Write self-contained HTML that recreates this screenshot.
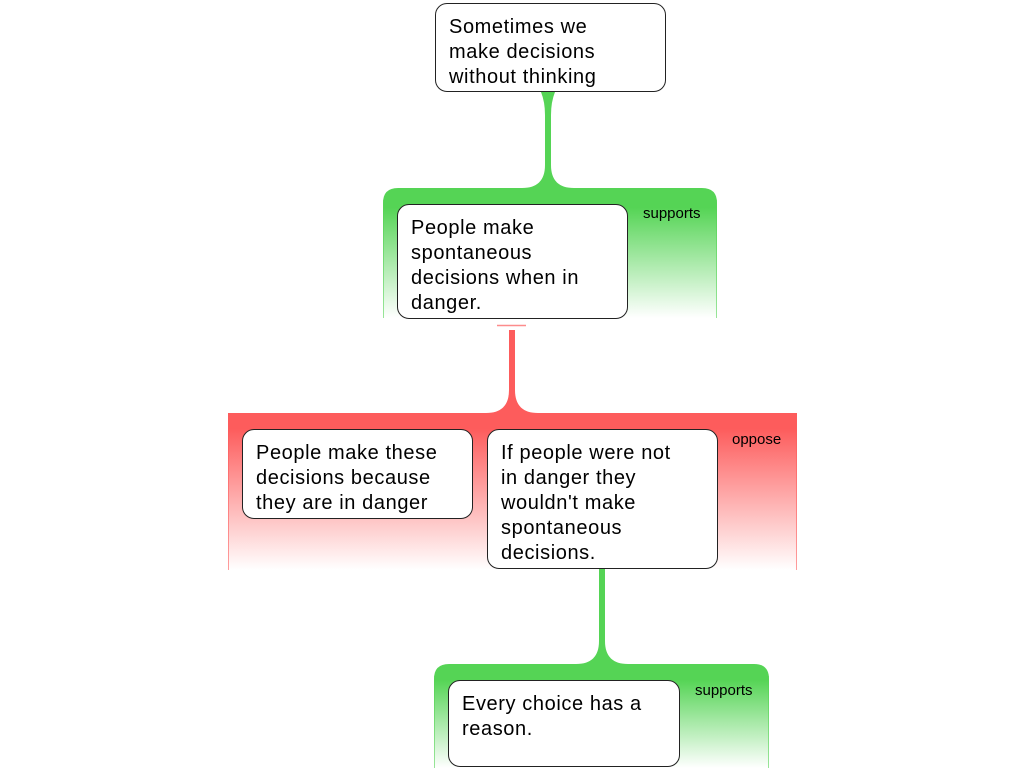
<!DOCTYPE html>
<html><head><style>
html,body{margin:0;padding:0;background:#fff;width:1024px;height:768px;overflow:hidden;position:relative;font-family:"Liberation Sans",sans-serif}
.box{position:absolute;background:#fff;border:1px solid #222;border-radius:12px;box-sizing:border-box;padding:11px 13px;font-size:20px;line-height:25px;color:#000;letter-spacing:0.6px;white-space:nowrap}
.lbl{position:absolute;font-size:15px;color:#000}
</style></head><body>
<svg width="1024" height="768" style="position:absolute;left:0;top:0">
<defs>
<linearGradient id="g" x1="0" y1="0" x2="0" y2="1"><stop offset="0" stop-color="#55d455"/><stop offset="0.15" stop-color="#55d455"/><stop offset="1" stop-color="#55d455" stop-opacity="0"/></linearGradient>
<linearGradient id="r" x1="0" y1="0" x2="0" y2="1"><stop offset="0" stop-color="#fd5c5c"/><stop offset="0.1" stop-color="#fd5c5c"/><stop offset="1" stop-color="#fd5c5c" stop-opacity="0"/></linearGradient>
</defs>
<path d="M541,92 Q545,102 545,115 L545,165 Q545,188 522,188 L574,188 Q551,188 551,165 L551,115 Q551,102 555,92 Z" fill="#55d455"/>
<path d="M383,318 L383,203 Q383,188 398,188 L702,188 Q717,188 717,203 L717,318 Z" fill="url(#g)"/>
<line x1="383.5" y1="200" x2="383.5" y2="318" stroke="#55d455" stroke-opacity="0.6"/>
<line x1="716.5" y1="200" x2="716.5" y2="318" stroke="#55d455" stroke-opacity="0.6"/>
<line x1="497" y1="325.5" x2="526" y2="325.5" stroke="#fd8c8c" stroke-width="1.5"/>
<path d="M509,330 L509,390 Q509,413 486,413 L538,413 Q515,413 515,390 L515,330 Z" fill="#fd5c5c"/>
<rect x="228" y="413" width="569" height="157" fill="url(#r)"/>
<line x1="228.5" y1="413" x2="228.5" y2="570" stroke="#fd5c5c" stroke-opacity="0.6"/>
<line x1="796.5" y1="413" x2="796.5" y2="570" stroke="#fd5c5c" stroke-opacity="0.6"/>
<path d="M599,568 L599,641 Q599,664 576,664 L628,664 Q605,664 605,641 L605,568 Z" fill="#55d455"/>
<path d="M434,768 L434,679 Q434,664 449,664 L754,664 Q769,664 769,679 L769,768 Z" fill="url(#g)"/>
<line x1="434.5" y1="676" x2="434.5" y2="768" stroke="#55d455" stroke-opacity="0.6"/>
<line x1="768.5" y1="676" x2="768.5" y2="768" stroke="#55d455" stroke-opacity="0.6"/>
</svg>
<div class="box" style="left:435px;top:3px;width:231px;height:89px">Sometimes we<br>make decisions<br>without thinking</div>
<div class="box" style="left:397px;top:204px;width:231px;height:115px">People make<br>spontaneous<br>decisions when in<br>danger.</div>
<div class="lbl" style="left:643px;top:205px">supports</div>
<div class="box" style="left:242px;top:429px;width:231px;height:90px">People make these<br>decisions because<br>they are in danger</div>
<div class="box" style="left:487px;top:429px;width:231px;height:140px">If people were not<br>in danger they<br>wouldn't make<br>spontaneous<br>decisions.</div>
<div class="lbl" style="left:732px;top:431px">oppose</div>
<div class="box" style="left:448px;top:680px;width:232px;height:87px">Every choice has a<br>reason.</div>
<div class="lbl" style="left:695px;top:682px">supports</div>
</body></html>
